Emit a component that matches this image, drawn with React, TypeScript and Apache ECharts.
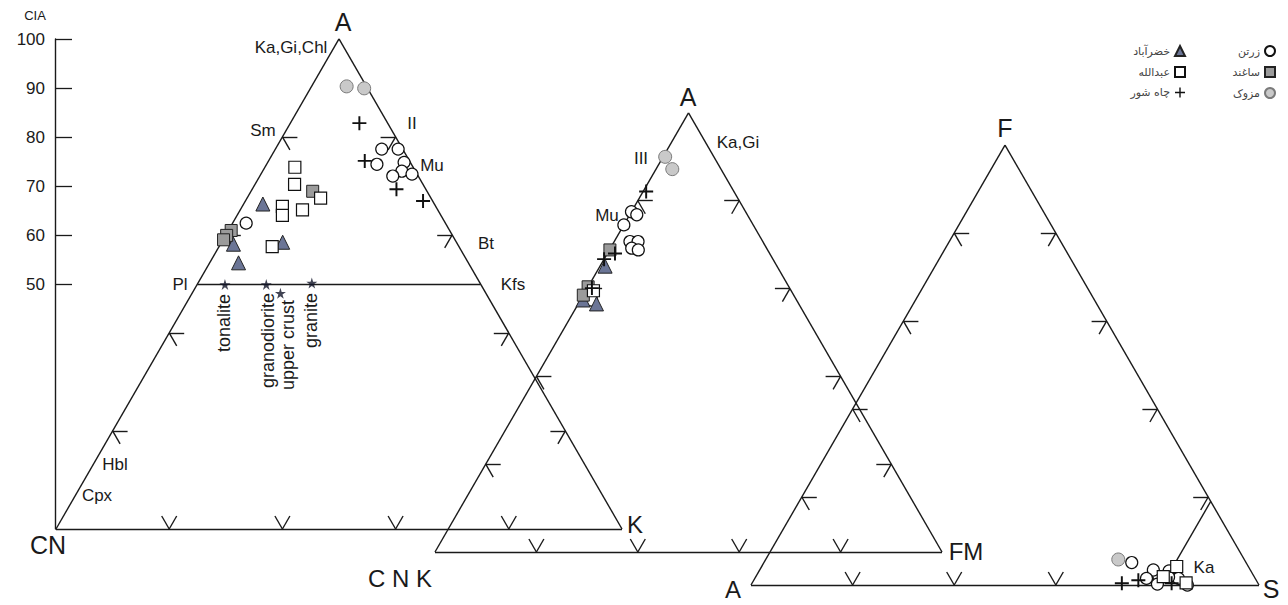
import React, { useEffect, useRef } from "react";
import * as echarts from "echarts";

const W = 1288;
const H = 605;

// ---------- DATA ----------
// Diagram 1: A–CN–K (molar %), each point = [A, K]; CN = 100 − A − K
const acnkZartan = [[77.5, 18.8], [77.5, 21.7], [74.4, 19.5], [74.8, 24.1], [73.0, 24.6], [72.0, 23.5], [72.4, 26.7], [62.4, 2.4]];
const acnkKhezrabad = [[66.3, 3.4], [58.5, 10.8], [58.1, 2.3], [54.3, 5.1]];
const acnkSaghand = [[68.9, 10.9], [60.9, 0.5], [59.9, 0.2], [59.0, 0.1]];
const acnkAbdollah = [[73.8, 5.3], [70.3, 7.0], [65.8, 7.1], [64.0, 8.0], [65.1, 11.0], [67.5, 13.0], [57.6, 9.4]];
const acnkMazuk = [[90.3, 6.2], [89.9, 9.5]];
const acnkChahShur = [[82.8, 12.2], [75.1, 17.0], [69.3, 25.5], [66.9, 31.4]];

// Diagram 2: A–CNK–FM, each point = [A, FM]
const acnkfmZartan = [[77.5, 0.0], [76.8, 1.4], [74.5, 0.0], [70.7, 3.1], [70.7, 4.7], [69.2, 4.2], [68.8, 5.7], [57.4, 2.2]];
const acnkfmKhezrabad = [[65.1, 1.0], [56.5, 3.6], [57.4, 0.5]];
const acnkfmSaghand = [[68.8, 0.1], [60.4, 0.0], [58.5, 0.0]];
const acnkfmAbdollah = [[59.5, 1.5]];
const acnkfmMazuk = [[90.0, 0.4], [87.2, 3.2]];
const acnkfmChahShur = [[82.1, 0.6], [68.0, 1.5], [66.7, 0.0], [60.1, 0.9]];

// Diagram 3: A–F–S, each point = [F, S]
const afsZartan = [[5.1, 72.4], [3.4, 77.5], [3.2, 80.7], [1.5, 77.1], [0.2, 79.9], [1.5, 83.4], [0.0, 85.9], [1.8, 81.3]];
const afsAbdollah = [[4.2, 81.7], [0.5, 85.4], [1.9, 80.2]];
const afsMazuk = [[5.8, 69.4]];
const afsChahShur = [[0.4, 72.8], [1.1, 75.7], [0.4, 82.6]];
const kaolinite = [4.5, 81.0]; // [F, S]

// Reference compositions on A–CN–K: [A, K]
const refNames = ["tonalite", "granodiorite", "upper crust", "granite"];
const refComps = [[49.9, 4.9], [49.9, 12.2], [48.1, 15.6], [50.2, 20.1]];

const ciaTicks = [50, 60, 70, 80, 90, 100];
const edgeTickFractions = [0.2, 0.4, 0.6, 0.8];

// ---------- LAYOUT ----------
type Tri = { x0: number; y0: number; side: number };
const TRI1: Tri = { x0: 56, y0: 529, side: 566 };
const TRI2: Tri = { x0: 435, y0: 552, side: 507 };
const TRI3: Tri = { x0: 751, y0: 585, side: 508 };

// top = % of apex component, right = % of right-vertex component
function proj(t: Tri, top: number, right: number): [number, number] {
  const h = (t.side * Math.sqrt(3)) / 2;
  return [t.x0 + (t.side * (right + top / 2)) / 100, t.y0 - (h * top) / 100];
}

function triSegments(t: Tri): [number, number][][] {
  const A = proj(t, 100, 0);
  const L = proj(t, 0, 0);
  const R = proj(t, 0, 100);
  const segs: [number, number][][] = [[L, R], [R, A], [A, L]];
  const len = 15;
  const edges: [number, number][][] = [[L, A, R], [L, R, A], [R, A, L]];
  for (const [P, Q, O] of edges) {
    for (const f of edgeTickFractions) {
      const pt: [number, number] = [P[0] + f * (Q[0] - P[0]), P[1] + f * (Q[1] - P[1])];
      for (const S of [P, Q]) {
        const dx = O[0] - S[0];
        const dy = O[1] - S[1];
        const n = Math.hypot(dx, dy);
        segs.push([pt, [pt[0] + (len * dx) / n, pt[1] + (len * dy) / n]]);
      }
    }
  }
  return segs;
}

const CROSS = "path://M4.3,0H5.7V4.3H10V5.7H5.7V10H4.3V5.7H0V4.3H4.3Z";
const STAR = "path://M50,0L61,35H98L68,57L79,91L50,70L21,91L32,57L2,35H39Z";
const FONT = "'Liberation Sans', Arial, sans-serif";
const INK = "#1a1a1a";

type Group = {
  name: string;
  d1?: number[][];
  d2?: number[][];
  d3?: number[][];
  symbol: string;
  size: number;
  style: any;
};

const groups: Group[] = [
  { name: "زرتن", d1: acnkZartan, d2: acnkfmZartan, d3: afsZartan, symbol: "circle", size: 12, style: { color: "#fff", borderColor: "#111", borderWidth: 1.2 } },
  { name: "خضرآباد", d1: acnkKhezrabad, d2: acnkfmKhezrabad, symbol: "triangle", size: 14, style: { color: "#6b7596", borderColor: "#222", borderWidth: 1 } },
  { name: "ساغند", d1: acnkSaghand, d2: acnkfmSaghand, symbol: "rect", size: 12, style: { color: "#9b9b9b", borderColor: "#222", borderWidth: 1 } },
  { name: "عبدالله", d1: acnkAbdollah, d2: acnkfmAbdollah, d3: afsAbdollah, symbol: "rect", size: 12, style: { color: "#fff", borderColor: "#111", borderWidth: 1.2 } },
  { name: "مزوک", d1: acnkMazuk, d2: acnkfmMazuk, d3: afsMazuk, symbol: "circle", size: 13, style: { color: "#c9c9c9", borderColor: "#7a7a7a", borderWidth: 1 } },
  { name: "چاه شور", d1: acnkChahShur, d2: acnkfmChahShur, d3: afsChahShur, symbol: CROSS, size: 14, style: { color: "#111" } },
];

function groupData(g: Group) {
  const out: [number, number][] = [];
  (g.d1 || []).forEach(([a, k]) => out.push(proj(TRI1, a, k)));
  (g.d2 || []).forEach(([a, fm]) => out.push(proj(TRI2, a, fm)));
  (g.d3 || []).forEach(([f, s]) => out.push(proj(TRI3, f, s)));
  return out;
}

type Lbl = { t: string; x: number; y: number; fs: number };
const labels: Lbl[] = [
  { t: "A", x: 343, y: 22, fs: 25 },
  { t: "CN", x: 48, y: 545, fs: 25 },
  { t: "K", x: 635, y: 524, fs: 24 },
  { t: "A", x: 688, y: 97, fs: 25 },
  { t: "FM", x: 966, y: 551, fs: 24 },
  { t: "C N K", x: 400, y: 578, fs: 24 },
  { t: "F", x: 1005, y: 128, fs: 25 },
  { t: "A", x: 733, y: 589, fs: 24 },
  { t: "S", x: 1271, y: 589, fs: 25 },
  { t: "Ka,Gi,Chl", x: 291, y: 47, fs: 17 },
  { t: "Sm", x: 263, y: 130, fs: 17 },
  { t: "II", x: 412, y: 123, fs: 17 },
  { t: "Mu", x: 432, y: 165, fs: 17 },
  { t: "Bt", x: 486, y: 243, fs: 17 },
  { t: "Kfs", x: 513, y: 284, fs: 17 },
  { t: "Pl", x: 180, y: 284, fs: 17 },
  { t: "Hbl", x: 115, y: 464, fs: 17 },
  { t: "Cpx", x: 97, y: 495, fs: 17 },
  { t: "III", x: 641, y: 158, fs: 17 },
  { t: "Mu", x: 607, y: 215, fs: 17 },
  { t: "Ka,Gi", x: 738, y: 142, fs: 17 },
  { t: "Ka", x: 1204, y: 567, fs: 17 },
  { t: "CIA", x: 35, y: 15, fs: 13 },
];
const refLabelPos = [
  { x: 224, y: 294 },
  { x: 268, y: 293 },
  { x: 288, y: 300 },
  { x: 311, y: 293 },
];

function buildOption(): any {
  const segs: [number, number][][] = [];
  [TRI1, TRI2, TRI3].forEach((t) => segs.push(...triSegments(t)));
  segs.push([proj(TRI1, 50, 0), proj(TRI1, 50, 50)]);
  segs.push([proj(TRI3, kaolinite[0], kaolinite[1]), proj(TRI3, 100 - kaolinite[1], kaolinite[1])]);

  const graphic: any[] = labels.map((l) => ({
    type: "text",
    x: l.x,
    y: l.y,
    silent: true,
    style: { text: l.t, fontSize: l.fs, fontFamily: FONT, fill: INK, align: "center", verticalAlign: "middle" },
  }));
  refNames.forEach((n, i) => {
    graphic.push({
      type: "text",
      x: refLabelPos[i].x,
      y: refLabelPos[i].y,
      rotation: Math.PI / 2,
      silent: true,
      style: { text: n, fontSize: 18, fontFamily: FONT, fill: INK, align: "right", verticalAlign: "middle" },
    });
  });

  const legendBase = {
    orient: "vertical",
    align: "right",
    top: 45,
    itemWidth: 10,
    itemHeight: 10,
    itemGap: 9,
    padding: 0,
    selectedMode: false,
    textStyle: { fontSize: 11, color: "#444", fontFamily: "'DejaVu Sans', sans-serif" },
  };

  return {
    animation: false,
    backgroundColor: "#fff",
    grid: [
      { left: 0, top: 0, width: W, height: H },
      { left: 55, top: 39, width: 10, height: 490 },
    ],
    xAxis: [
      { type: "value", min: 0, max: W, show: false, gridIndex: 0 },
      { type: "value", min: 0, max: 1, show: false, gridIndex: 1 },
    ],
    yAxis: [
      { type: "value", min: 0, max: H, inverse: true, show: false, gridIndex: 0 },
      {
        type: "value",
        gridIndex: 1,
        min: 0,
        max: 100,
        interval: 10,
        position: "left",
        axisLine: { show: true, lineStyle: { color: INK, width: 1.4 } },
        axisTick: { show: true, inside: true, length: 17, customValues: ciaTicks, lineStyle: { color: INK, width: 1.3 } },
        axisLabel: { show: true, customValues: ciaTicks, fontSize: 17, color: INK, fontFamily: FONT, margin: 10 },
        splitLine: { show: false },
      },
    ],
    legend: [
      { ...legendBase, right: 102, data: ["خضرآباد", "عبدالله", "چاه شور"] },
      { ...legendBase, right: 12, data: ["زرتن", "ساغند", "مزوک"] },
    ],
    graphic,
    series: [
      {
        type: "lines",
        coordinateSystem: "cartesian2d",
        xAxisIndex: 0,
        yAxisIndex: 0,
        silent: true,
        z: 1,
        lineStyle: { color: INK, width: 1.4, opacity: 1, curveness: 0 },
        data: segs.map((s) => ({ coords: s })),
      },
      ...groups.map((g) => ({
        type: "scatter",
        name: g.name,
        xAxisIndex: 0,
        yAxisIndex: 0,
        symbol: g.symbol,
        symbolSize: g.size,
        itemStyle: { ...g.style, opacity: 1 },
        z: 3,
        data: groupData(g),
      })),
      {
        type: "scatter",
        name: "ref",
        xAxisIndex: 0,
        yAxisIndex: 0,
        symbol: STAR,
        symbolSize: 11,
        itemStyle: { color: "#111428" },
        z: 4,
        data: refComps.map(([a, k]) => proj(TRI1, a, k)),
      },
    ],
  };
}

export default function App() {
  const ref = useRef<HTMLDivElement>(null);
  useEffect(() => {
    const chart = echarts.init(ref.current!, null, { renderer: "svg" });
    chart.setOption(buildOption());
    return () => chart.dispose();
  }, []);
  return (
    <div
      ref={ref}
      style={{ position: "absolute", left: 0, top: 0, width: W, height: H, background: "#fff" }}
    />
  );
}
